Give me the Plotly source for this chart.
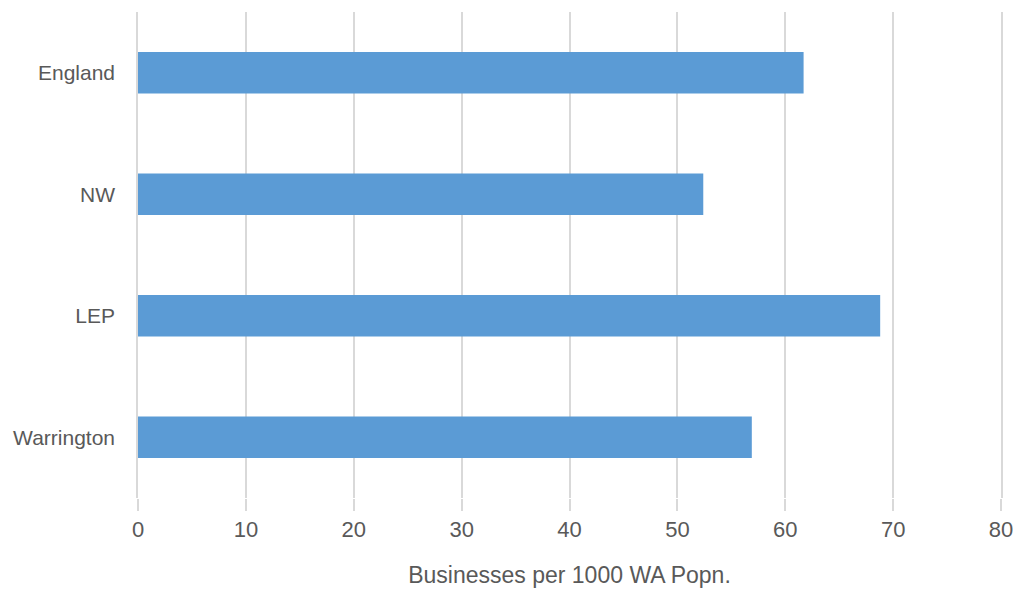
import plotly.graph_objects as go

categories = ["England", "NW", "LEP", "Warrington"]
values = [61.7, 52.4, 68.8, 56.9]
x_ticks = [0, 10, 20, 30, 40, 50, 60, 70, 80]
x_title = "Businesses per 1000 WA Popn."

font_fam = "Liberation Sans Narrow, Liberation Sans, Arial, sans-serif"
grid = "#d9d9d9"

fig = go.Figure(go.Bar(
    y=categories, x=values, orientation="h",
    marker=dict(color="#5B9BD5", line=dict(width=0)),
    width=0.34,
))
fig.update_layout(
    width=1016, height=590,
    margin=dict(l=138, r=15, t=12, b=92),
    paper_bgcolor="white", plot_bgcolor="white",
    showlegend=False,
    font=dict(family=font_fam, color="#595959", size=22),
)
fig.update_xaxes(
    range=[0, 80], tickvals=x_ticks, showgrid=True, gridcolor=grid, gridwidth=1.5,
    zeroline=False, showline=False, ticks="outside", ticklen=12, tickcolor=grid, tickwidth=1.5,
    automargin=False,
    tickfont=dict(size=22, color="#595959"),
    title=dict(text=x_title, font=dict(size=23, color="#595959"), standoff=25),
)
fig.update_yaxes(
    categoryorder="array", categoryarray=categories[::-1],
    showgrid=False, zeroline=False, showline=True, mirror=True,
    linecolor=grid, linewidth=1.5,
    ticks="", ticklabelstandoff=17, automargin=False,
    tickfont=dict(size=21, color="#595959"),
)
fig.write_html("out.html", config={"displayModeBar": False},
               post_script="document.body.style.margin='0';")
